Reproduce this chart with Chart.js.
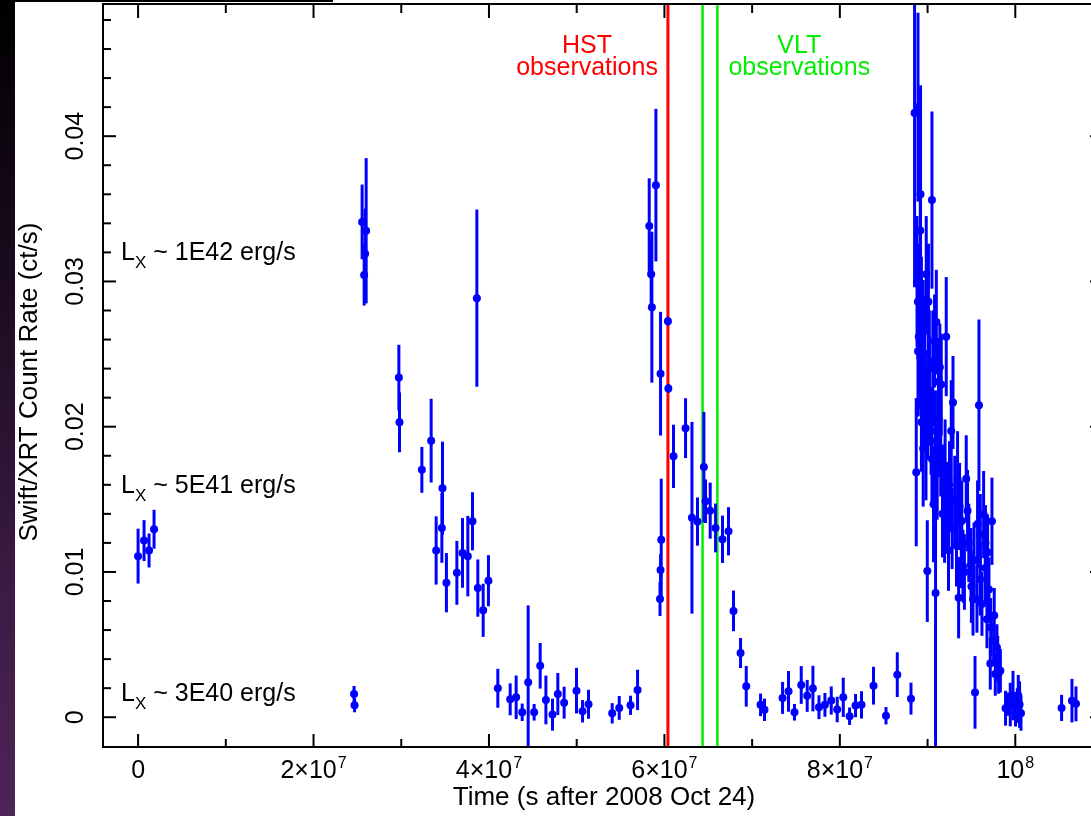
<!DOCTYPE html>
<html>
<head>
<meta charset="utf-8">
<script src="https://cdn.jsdelivr.net/npm/chart.js@4.4.1/dist/chart.umd.min.js"></script>
<style>
  html, body { margin: 0; padding: 0; background: #fff; overflow: hidden; width: 1091px; height: 816px; }
  #wrap { position: absolute; left: 0; top: 0; width: 1110px; height: 816px; }
  #edge { position: absolute; left: 0; top: 0; width: 15px; height: 816px;
          background: linear-gradient(to bottom, #000 0%, #1c0b20 35%, #3a1a42 70%, #4f2458 100%); }
  #topline { position: absolute; left: 15px; top: 0; width: 318px; height: 2px; background: #000; }
</style>
</head>
<body>
<div id="wrap"><canvas id="lc" width="1110" height="816"></canvas></div>
<div id="edge"></div>
<div id="topline"></div>
<script>
// Swift/XRT light curve: time (s after 2008 Oct 24), count rate (ct/s), 1-sigma error
const timeS = [
  0, 0.068e7, 0.125e7, 0.182e7,
  2.462e7, 2.468e7,
  2.554e7, 2.600e7, 2.588e7, 2.577e7,
  2.973e7, 2.980e7, 3.235e7, 3.341e7, 3.470e7, 3.463e7, 3.398e7, 3.515e7, 3.634e7, 3.698e7,
  3.759e7, 3.812e7, 3.862e7, 3.873e7, 3.934e7, 3.994e7,
  4.101e7, 4.242e7, 4.310e7, 4.379e7, 4.447e7, 4.515e7, 4.584e7, 4.649e7, 4.724e7, 4.785e7,
  4.857e7, 4.998e7, 5.067e7, 5.135e7, 5.405e7, 5.485e7, 5.614e7, 5.694e7,
  5.827e7, 5.903e7, 5.849e7, 5.857e7, 5.956e7, 6.040e7, 6.045e7, 6.104e7, 6.241e7, 6.314e7,
  6.377e7, 6.450e7, 6.469e7, 6.522e7, 6.583e7, 6.662e7, 6.731e7, 6.788e7, 6.868e7, 6.933e7,
  5.964e7, 5.956e7, 5.950e7,
  7.096e7, 7.141e7, 7.347e7, 7.415e7, 7.483e7, 7.560e7, 7.628e7, 7.693e7, 7.762e7, 7.830e7,
  7.902e7, 7.970e7, 8.039e7, 8.111e7, 8.179e7, 8.247e7, 8.384e7, 8.526e7, 8.655e7, 8.811e7,
  8.852e7, 8.891e7, 8.920e7, 9.050e7, 8.917e7, 8.985e7, 8.891e7, 9.080e7, 9.213e7, 9.125e7,
  9.156e7, 8.871e7, 8.997e7, 9.091e7, 8.925e7, 8.982e7, 9.050e7, 9.068e7, 9.125e7, 9.182e7,
  9.194e7, 9.221e7, 9.239e7, 9.270e7, 9.290e7, 9.342e7, 9.365e7, 9.384e7, 9.404e7, 9.354e7,
  9.441e7, 9.456e7, 9.495e7, 9.518e7, 9.541e7, 9.563e7, 9.570e7, 9.586e7, 9.601e7, 9.639e7,
  9.658e7, 9.677e7, 9.684e7, 9.734e7, 9.715e7, 9.753e7, 9.791e7, 9.810e7, 9.772e7,
  8.890e7, 8.930e7, 8.950e7, 9.010e7, 9.020e7, 9.100e7, 9.140e7, 8.960e7, 9.000e7, 8.930e7, 9.040e7,
  8.880e7, 8.900e7, 8.940e7, 8.950e7, 8.970e7, 9.020e7, 9.060e7, 9.090e7, 9.110e7, 9.150e7,
  9.170e7, 9.200e7, 9.250e7, 9.280e7, 9.310e7, 9.330e7, 9.390e7, 9.420e7, 9.470e7, 9.500e7,
  9.530e7, 9.600e7, 9.620e7, 9.660e7, 9.700e7, 9.720e7, 9.760e7, 9.800e7, 9.830e7,
  9.889e7, 9.920e7, 9.943e7, 9.974e7, 10.003e7, 10.023e7, 10.034e7, 10.049e7, 10.065e7,
  10.528e7, 10.646e7, 10.692e7
];
const rate = [
  0.01109, 0.01216, 0.01148, 0.01294,
  0.00160, 0.00082,
  0.03410, 0.03349, 0.03191, 0.03044,
  0.02338, 0.02030, 0.01703, 0.01904, 0.01577, 0.01303, 0.01148, 0.00926, 0.00994, 0.01131,
  0.01109, 0.01349, 0.02885, 0.00889, 0.00736, 0.00940,
  0.00199, 0.00123, 0.00137, 0.00034, 0.00240, 0.00034, 0.00354, 0.00119, 0.00018, 0.00160,
  0.00100, 0.00183, 0.00041, 0.00089, 0.00027, 0.00064, 0.00082, 0.00188,
  0.03382, 0.03663, 0.03050, 0.02823, 0.02365, 0.02726, 0.02263, 0.01796, 0.01990, 0.01373,
  0.01347, 0.01722, 0.01487, 0.01422, 0.01303, 0.01225, 0.01280, 0.00732, 0.00442, 0.00213,
  0.01222, 0.01013, 0.00814,
  0.00085, 0.00051, 0.00133, 0.00178, 0.00034, 0.00222, 0.00147, 0.00197, 0.00069, 0.00085,
  0.00115, 0.00053, 0.00137, 0.00007, 0.00080, 0.00085, 0.00217, 0.00010, 0.00293, 0.00128,
  0.0416, 0.0420, 0.0360, 0.0356, 0.0335, 0.0305, 0.0252, 0.0259, 0.0262, 0.0231,
  0.0229, 0.01687, 0.01006, 0.00855, 0.02376, 0.01943, 0.01778, 0.01467, 0.0205, 0.01577,
  0.01383, 0.01458, 0.0115, 0.0197, 0.02167, 0.01639, 0.01451, 0.01189, 0.0104, 0.00823,
  0.01641, 0.01422, 0.01052, 0.00812, 0.00171, 0.00812, 0.0133, 0.02148, 0.01257, 0.01395,
  0.01028, 0.00675, 0.01136, 0.01349, 0.0037, 0.00526, 0.0048, 0.00302, 0.00298,
  0.0286, 0.0279, 0.0265, 0.0286, 0.0245, 0.0272, 0.0241, 0.0220, 0.0210, 0.0203, 0.0197,
  0.0300, 0.0262, 0.0232, 0.0185, 0.0250, 0.0225, 0.0240, 0.0190, 0.0168, 0.0185,
  0.0140, 0.0172, 0.0160, 0.0130, 0.0150, 0.0118, 0.0135, 0.0100, 0.0120, 0.0090,
  0.0108, 0.0095, 0.0078, 0.0120, 0.0088, 0.0062, 0.0070, 0.0040, 0.0032,
  0.00062, 0.00090, 0.00087, 0.00149, 0.00046, 0.00080, 0.00151, 0.00087, 0.00027,
  0.00064, 0.00114, 0.00092
];
const rateErr = [
  0.00189, 0.00141, 0.00117, 0.00134,
  0.00055, 0.00048,
  0.00257, 0.00500, 0.00310, 0.00210,
  0.00226, 0.00206, 0.00158, 0.00288, 0.00320, 0.00240, 0.00235, 0.00204, 0.00220, 0.00240,
  0.00277, 0.00200, 0.00610, 0.00197, 0.00183, 0.00176,
  0.00134, 0.00110, 0.00150, 0.00060, 0.00530, 0.00057, 0.00157, 0.00168, 0.00110, 0.00145,
  0.00110, 0.00157, 0.00077, 0.00100, 0.00070, 0.00082, 0.00066, 0.00139,
  0.00328, 0.00525, 0.00250, 0.00520, 0.00426, 0.00030, 0.00030, 0.00218, 0.00206, 0.00660,
  0.00166, 0.00380, 0.00150, 0.00193, 0.00168, 0.00163, 0.00166, 0.00140, 0.00103, 0.00140,
  0.00420, 0.00110, 0.00117,
  0.00078, 0.00077, 0.00110, 0.00140, 0.00057, 0.00130, 0.00110, 0.00157, 0.00082, 0.00082,
  0.00097, 0.00088, 0.00135, 0.00060, 0.00080, 0.00094, 0.00130, 0.00060, 0.00154, 0.00110,
  0.0120, 0.0065, 0.0075, 0.0061, 0.0045, 0.0040, 0.0045, 0.0032, 0.0041, 0.0030,
  0.0035, 0.0051, 0.0035, 0.0110, 0.0030, 0.0045, 0.0030, 0.0040, 0.0035, 0.0030,
  0.0032, 0.0030, 0.0028, 0.0035, 0.0032, 0.0033, 0.0030, 0.0030, 0.0025, 0.0028,
  0.0030, 0.0028, 0.0025, 0.0025, 0.0025, 0.0023, 0.0030, 0.0059, 0.0028, 0.0030,
  0.0025, 0.0020, 0.0026, 0.0030, 0.0018, 0.0017, 0.0016, 0.0014, 0.0015,
  0.0040, 0.0038, 0.0036, 0.0040, 0.0035, 0.0036, 0.0030, 0.0035, 0.0033, 0.0034, 0.0030,
  0.0045, 0.0050, 0.0042, 0.0040, 0.0040, 0.0038, 0.0040, 0.0035, 0.0032, 0.0033,
  0.0030, 0.0033, 0.0030, 0.0028, 0.0030, 0.0028, 0.0028, 0.0026, 0.0027, 0.0025,
  0.0026, 0.0025, 0.0022, 0.0026, 0.0022, 0.0020, 0.0019, 0.0016, 0.0015,
  0.0012, 0.0008, 0.0015, 0.0017, 0.0011, 0.0012, 0.0014, 0.0016, 0.0012,
  0.0009, 0.0015, 0.0012
];

// observation epochs
const hstTimes = [6.04e7];
const vltTimes = [6.435e7, 6.604e7];

// axis ticks
const xMajorTicks = [0, 2e7, 4e7, 6e7, 8e7, 1e8];
const xTickLabels = [["0", ""], ["2\u00d710", "7"], ["4\u00d710", "7"], ["6\u00d710", "7"], ["8\u00d710", "7"], ["10", "8"]];
const xMinorTicks = [1e7, 3e7, 5e7, 7e7, 9e7];
const yMajorTicks = [0, 0.01, 0.02, 0.03, 0.04];
const yTickLabels = ["0", "0.01", "0.02", "0.03", "0.04"];
const yMinorStep = 0.002;

// luminosity reference labels
const lxValues = ["1E42", "5E41", "3E40"];
const lxRates = [0.03145, 0.01541, 0.00115];

const FONT = '"Liberation Sans", Arial, Helvetica, sans-serif';
const BLUE = "#0000ff";
const RED = "#ff0000";
const GREEN = "#00ee00";

const points = timeS.map((t, i) => ({ x: t, y: rate[i], e: rateErr[i] }));

const decor = {
  id: "decor",
  beforeDatasetsDraw(chart) {
    const { ctx, chartArea: a, scales: { x, y } } = chart;
    ctx.save();
    ctx.beginPath();
    ctx.rect(a.left, a.top, a.right - a.left, a.bottom - a.top);
    ctx.clip();

    // observation markers
    ctx.lineWidth = 3;
    ctx.strokeStyle = RED;
    hstTimes.forEach(t => {
      const px = x.getPixelForValue(t);
      ctx.beginPath(); ctx.moveTo(px, a.top); ctx.lineTo(px, a.bottom); ctx.stroke();
    });
    ctx.strokeStyle = GREEN;
    ctx.lineWidth = 2.5;
    vltTimes.forEach(t => {
      const px = x.getPixelForValue(t);
      ctx.beginPath(); ctx.moveTo(px, a.top); ctx.lineTo(px, a.bottom); ctx.stroke();
    });

    // error bars
    ctx.strokeStyle = BLUE;
    ctx.lineWidth = 3;
    points.forEach(p => {
      const px = x.getPixelForValue(p.x);
      ctx.beginPath();
      ctx.moveTo(px, y.getPixelForValue(p.y - p.e));
      ctx.lineTo(px, y.getPixelForValue(p.y + p.e));
      ctx.stroke();
    });
    ctx.restore();
  },
  afterDatasetsDraw(chart) {
    const { ctx, chartArea: a, scales: { x, y } } = chart;
    ctx.save();
    ctx.strokeStyle = "#000";
    ctx.lineWidth = 2;
    ctx.strokeRect(a.left, a.top, a.right - a.left, a.bottom - a.top);

    const tick = (x1, y1, x2, y2) => { ctx.beginPath(); ctx.moveTo(x1, y1); ctx.lineTo(x2, y2); ctx.stroke(); };
    const MAJ = 13, MIN = 8;
    xMajorTicks.forEach(v => {
      const px = x.getPixelForValue(v);
      tick(px, a.bottom, px, a.bottom - MAJ);
      tick(px, a.top, px, a.top + MAJ + 1);
    });
    xMinorTicks.forEach(v => {
      const px = x.getPixelForValue(v);
      tick(px, a.bottom, px, a.bottom - MIN);
      tick(px, a.top, px, a.top + MIN + 1);
    });
    for (let v = 0; v <= y.max; v += yMinorStep) {
      const py = y.getPixelForValue(v);
      const major = yMajorTicks.some(m => Math.abs(m - v) < 1e-6);
      const len = major ? MAJ : MIN;
      tick(a.left, py, a.left + len, py);
      tick(a.right, py, a.right - len, py);
    }

    ctx.fillStyle = "#000";
    ctx.textBaseline = "alphabetic";

    // x tick labels with exponents
    xMajorTicks.forEach((v, i) => {
      const [base, sup] = xTickLabels[i];
      ctx.font = "25px " + FONT;
      const wb = ctx.measureText(base).width;
      ctx.font = "16px " + FONT;
      const ws = sup ? ctx.measureText(sup).width + 1 : 0;
      const start = x.getPixelForValue(v) - (wb + ws) / 2;
      ctx.font = "25px " + FONT;
      ctx.textAlign = "left";
      ctx.fillText(base, start, 778);
      if (sup) {
        ctx.font = "16px " + FONT;
        ctx.fillText(sup, start + wb + 1, 768);
      }
    });

    // y tick labels, rotated
    yMajorTicks.forEach((v, i) => {
      ctx.save();
      ctx.translate(83, y.getPixelForValue(v));
      ctx.rotate(-Math.PI / 2);
      ctx.font = "25px " + FONT;
      ctx.textAlign = "center";
      ctx.fillText(yTickLabels[i], 0, 0);
      ctx.restore();
    });

    // axis titles
    ctx.font = "26px " + FONT;
    ctx.textAlign = "center";
    ctx.fillText("Time (s after 2008 Oct 24)", 604, 805);
    ctx.save();
    ctx.translate(37, 382);
    ctx.rotate(-Math.PI / 2);
    ctx.fillText("Swift/XRT Count Rate (ct/s)", 0, 0);
    ctx.restore();

    // luminosity labels
    ctx.textAlign = "left";
    lxValues.forEach((lx, i) => {
      const by = y.getPixelForValue(lxRates[i]);
      let cx = 121;
      ctx.font = "25px " + FONT;
      ctx.fillText("L", cx, by);
      cx += ctx.measureText("L").width;
      ctx.font = "17px " + FONT;
      ctx.fillText("X", cx, by + 8);
      cx += ctx.measureText("X").width;
      ctx.font = "25px " + FONT;
      ctx.fillText(" ~ " + lx + " erg/s", cx, by);
    });

    // observation annotations
    ctx.font = "25px " + FONT;
    const obsW = ctx.measureText("observations").width;
    ctx.textAlign = "center";
    ctx.fillStyle = RED;
    const hx = x.getPixelForValue(hstTimes[0]) - 10 - obsW / 2;
    ctx.fillText("HST", hx, 53);
    ctx.fillText("observations", hx, 75);
    ctx.fillStyle = GREEN;
    const vx = x.getPixelForValue(vltTimes[1]) + 11 + obsW / 2;
    ctx.fillText("VLT", vx, 53);
    ctx.fillText("observations", vx, 75);
    ctx.restore();
  }
};

new Chart(document.getElementById("lc").getContext("2d"), {
  type: "scatter",
  data: {
    datasets: [{
      label: "Swift/XRT",
      data: points,
      pointRadius: 4,
      pointHoverRadius: 4,
      pointBackgroundColor: BLUE,
      pointBorderColor: BLUE,
      pointBorderWidth: 0,
      showLine: false
    }]
  },
  options: {
    responsive: false,
    animation: false,
    events: [],
    layout: { padding: { left: 103, top: 1, right: 7, bottom: 69 } },
    plugins: { legend: { display: false }, tooltip: { enabled: false } },
    scales: {
      x: { type: "linear", min: -4e6, max: 1.1e8, display: false },
      y: { type: "linear", min: -0.00205, max: 0.0491, display: false }
    }
  },
  plugins: [decor]
});
</script>
</body>
</html>
